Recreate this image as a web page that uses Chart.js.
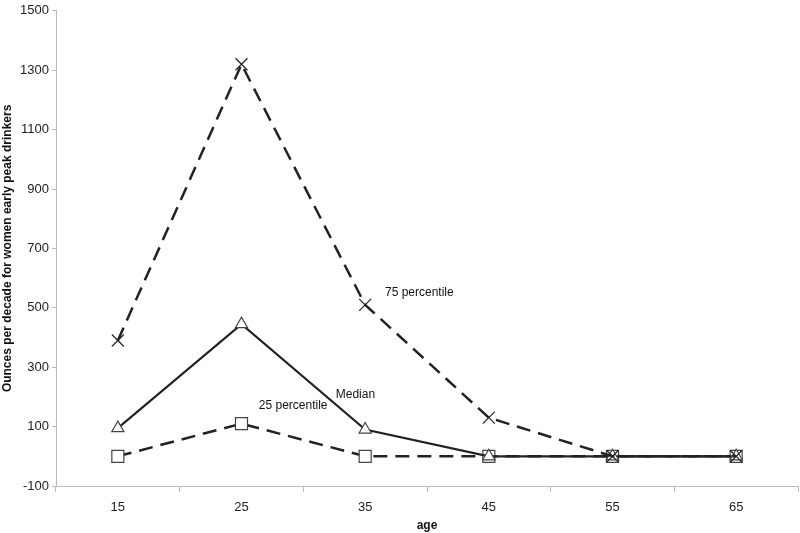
<!DOCTYPE html>
<html>
<head>
<meta charset="utf-8">
<script src="https://cdn.jsdelivr.net/npm/chart.js@4/dist/chart.umd.min.js"></script>
<style>
html,body{margin:0;padding:0;background:#fff;}
#wrap{width:800px;height:533px;}
</style>
</head>
<body>
<div id="wrap"><canvas id="c" width="800" height="533"></canvas></div>
<script>
const ages = ['15','25','35','45','55','65'];
const p75 = [390, 1320, 510, 130, 0, 0];
const median = [95, 445, 90, 0, 0, 0];
const p25 = [0, 110, 0, 0, 0, 0];
const yTicks = [-100, 100, 300, 500, 700, 900, 1100, 1300, 1500];
const notes = [
  {text: '75 percentile', x: 2.16, y: 552},
  {text: 'Median', x: 1.762, y: 206},
  {text: '25 percentile', x: 1.14, y: 169}
];

const FONT = '"Liberation Sans", Arial, sans-serif';

const notePlugin = {
  id: 'notes',
  afterDatasetsDraw(chart) {
    const ctx = chart.ctx;
    const xs = chart.scales.x, ys = chart.scales.y;
    ctx.save();
    ctx.font = '12px ' + FONT;
    ctx.fillStyle = '#111';
    ctx.textAlign = 'left';
    ctx.textBaseline = 'middle';
    notes.forEach(n => {
      ctx.fillText(n.text, xs.getPixelForValue(n.x), ys.getPixelForValue(n.y));
    });
    ctx.restore();
  }
};

new Chart(document.getElementById('c'), {
  type: 'line',
  data: {
    labels: ages,
    datasets: [
      {
        label: '75 percentile', data: p75,
        borderColor: '#222', borderWidth: 2.5, borderDash: [14, 8],
        pointStyle: 'crossRot', pointRadius: 8.5, pointBorderWidth: 1.2,
        pointBorderColor: '#222', pointBackgroundColor: '#fff',
        tension: 0, order: 1, clip: false
      },
      {
        label: 'Median', data: median,
        borderColor: '#222', borderWidth: 2.2,
        pointStyle: 'triangle', pointRadius: 7, pointBorderWidth: 1.2,
        pointBorderColor: '#444', pointBackgroundColor: '#fff',
        tension: 0, order: 2, clip: false
      },
      {
        label: '25 percentile', data: p25,
        borderColor: '#222', borderWidth: 2.5, borderDash: [14, 8],
        pointStyle: 'rect', pointRadius: 8.5, pointBorderWidth: 1.2,
        pointBorderColor: '#444', pointBackgroundColor: '#fff',
        tension: 0, order: 3, clip: false
      }
    ]
  },
  options: {
    responsive: false,
    animation: false,
    devicePixelRatio: 1,
    layout: {autoPadding: false, padding: {top: 3, right: 2, left: 0, bottom: 0}},
    plugins: {legend: {display: false}, tooltip: {enabled: false}},
    scales: {
      x: {
        type: 'category',
        offset: true,
        grid: {display: true, drawOnChartArea: false, drawTicks: true, tickLength: 6, offset: true, color: '#bbb'},
        border: {color: '#bbb', width: 1},
        ticks: {color: '#222', font: {family: FONT, size: 13}, padding: 8},
        title: {display: true, text: 'age', color: '#111', font: {family: FONT, size: 12, weight: 'bold'}, padding: {top: 4, bottom: 0}},
        afterFit(s) { s.height = 47; s.paddingLeft = 0; s.paddingRight = 0; }
      },
      y: {
        min: -100, max: 1500,
        afterBuildTicks(s) { s.ticks = yTicks.map(v => ({value: v})); },
        grid: {display: true, drawOnChartArea: false, drawTicks: true, tickLength: 4, color: '#bbb'},
        border: {color: '#bbb', width: 1},
        ticks: {color: '#222', font: {family: FONT, size: 13}, padding: 3, callback: v => String(v)},
        title: {display: true, text: 'Ounces per decade for women early peak drinkers', color: '#111', font: {family: FONT, size: 12, weight: 'bold'}, padding: {top: 0, bottom: 4}},
        afterFit(s) { s.width = 56; }
      }
    }
  },
  plugins: [notePlugin]
});
</script>
</body>
</html>
